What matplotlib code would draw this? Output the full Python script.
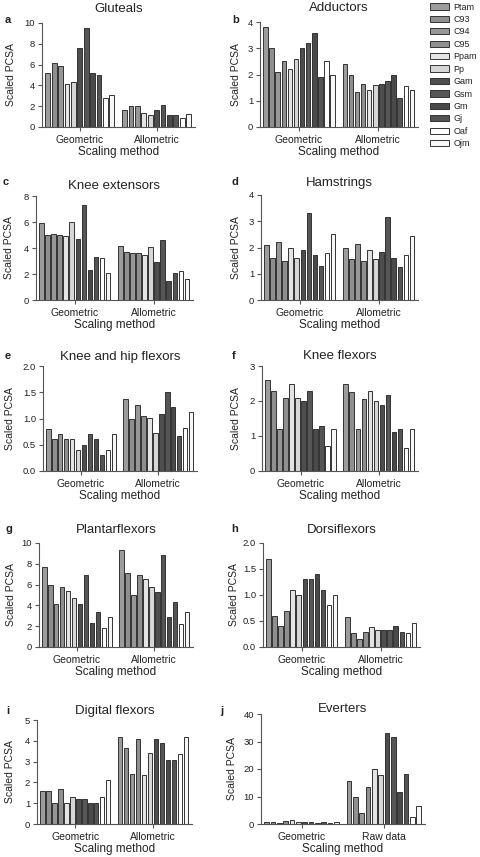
import numpy as np
import matplotlib
matplotlib.use("Agg")
import matplotlib.pyplot as plt

plt.rcParams['font.family'] = ['Liberation Sans', 'DejaVu Sans']

# Series (specimens) in legend order
specimens = ['Ptam', 'C93', 'C94', 'C95', 'Ppam', 'Pp',
             'Gam', 'Gsm', 'Gm', 'Gj', 'Oaf', 'Ojm']
bar_colors = ['#9c9c9c', '#8f8f8f', '#979797', '#8f8f8f',
              '#e4e4e4', '#d6d6d6',
              '#4e4e4e', '#565656', '#4a4a4a', '#545454',
              '#ffffff', '#f7f7f7']

# Muscle groups (panel titles) and x-axis group labels
titles = ['Gluteals', 'Adductors', 'Knee extensors', 'Hamstrings',
          'Knee and hip flexors', 'Knee flexors', 'Plantarflexors',
          'Dorsiflexors', 'Digital flexors', 'Everters']
letters = ['a', 'b', 'c', 'd', 'e', 'f', 'g', 'h', 'i', 'j']
group_labels = [['Geometric', 'Allometric']] * 9 + [['Geometric', 'Raw data']]

# Scaled PCSA values; None = bar not shown
gluteals_geo = [5.2, 6.2, 5.9, None, 4.1, 4.3, 7.6, 9.5, 5.2, 5.0, 2.8, 3.1]
gluteals_allo = [1.6, 2.0, 2.0, None, 1.3, 1.2, 1.6, 2.1, 1.2, 1.15, 0.85, 1.25]
adductors_geo = [3.8, 3.0, 2.1, 2.5, 2.2, 2.6, 3.0, 3.2, 3.6, 1.9, 2.5, 2.0]
adductors_allo = [2.4, 2.0, 1.33, 1.63, 1.4, 1.6, 1.62, 1.75, 2.0, 1.1, 1.55, 1.4]
kneeext_geo = [5.9, 5.0, 5.1, 5.0, 4.9, 6.0, 4.7, 7.3, 2.3, 3.3, 3.2, 2.1]
kneeext_allo = [4.15, 3.7, 3.65, 3.6, 3.5, 4.1, 2.9, 4.65, 1.5, 2.1, 2.25, 1.6]
hamstrings_geo = [2.1, 1.6, 2.2, 1.5, 2.0, 1.6, 1.9, 3.3, 1.7, 1.3, 1.8, 2.5]
hamstrings_allo = [2.0, 1.55, 2.15, 1.48, 1.9, 1.57, 1.83, 3.17, 1.6, 1.27, 1.7, 2.43]
kneehip_geo = [0.8, 0.6, 0.7, 0.6, 0.6, 0.4, 0.5, 0.7, 0.6, 0.3, 0.4, 0.7]
kneehip_allo = [1.37, 0.99, 1.26, 1.04, 1.01, 0.72, 1.09, 1.5, 1.21, 0.66, 0.81, 1.13]
kneeflex_geo = [2.6, 2.3, 1.2, 2.1, 2.5, 2.1, 2.0, 2.3, 1.2, 1.3, 0.7, 1.2]
kneeflex_allo = [2.48, 2.25, 1.2, 2.05, 2.28, 2.0, 1.88, 2.18, 1.12, 1.2, 0.65, 1.2]
plantar_geo = [7.7, 6.0, 4.1, 5.8, 5.4, 4.7, 4.1, 6.9, 2.3, 3.4, 1.8, 2.9]
plantar_allo = [9.3, 7.1, 5.0, 6.95, 6.5, 5.75, 5.3, 8.85, 2.9, 4.3, 2.2, 3.4]
dorsi_geo = [1.7, 0.6, 0.4, 0.7, 1.1, 1.0, 1.3, 1.3, 1.4, 1.1, 0.8, 1.0]
dorsi_allo = [0.58, 0.26, 0.15, 0.28, 0.38, 0.32, 0.32, 0.32, 0.4, 0.29, 0.26, 0.47]
digital_geo = [1.6, 1.6, 1.0, 1.7, 1.0, 1.3, 1.2, 1.2, 1.0, 1.0, 1.3, 2.1]
digital_allo = [4.18, 3.65, 2.42, 4.07, 2.37, 3.43, 4.1, 3.88, 3.07, 3.07, 3.35, 4.2]
everters_geo = [0.9, 0.9, 0.3, 1.0, 1.4, 0.9, 0.8, 0.9, 0.5, 0.6, 0.3, 0.9]
everters_raw = [15.8, 9.9, 3.9, 13.3, 20.0, 17.8, 33.0, 31.8, 11.7, 18.1, 2.6, 6.5]

panel_data = [(gluteals_geo, gluteals_allo), (adductors_geo, adductors_allo),
              (kneeext_geo, kneeext_allo), (hamstrings_geo, hamstrings_allo),
              (kneehip_geo, kneehip_allo), (kneeflex_geo, kneeflex_allo),
              (plantar_geo, plantar_allo), (dorsi_geo, dorsi_allo),
              (digital_geo, digital_allo), (everters_geo, everters_raw)]

y_ticks = [[0, 2, 4, 6, 8, 10], [0, 1, 2, 3, 4], [0, 2, 4, 6, 8], [0, 1, 2, 3, 4],
           [0.0, 0.5, 1.0, 1.5, 2.0], [0, 1, 2, 3], [0, 2, 4, 6, 8, 10],
           [0.0, 0.5, 1.0, 1.5, 2.0], [0, 1, 2, 3, 4, 5], [0, 10, 20, 30, 40]]
y_fmt = ['%d', '%d', '%d', '%d', '%.1f', '%d', '%d', '%.1f', '%d', '%d']

# layout in pixels: left, right, top, bottom of each axes; title y; letter x,y; ylabel x
W, H = 480, 857
boxes = [(42, 195, 23, 127), (260, 418, 22, 127),
         (36, 193, 196, 300), (261, 418, 195, 300),
         (43, 197, 366, 471), (262, 418, 366, 471),
         (39, 193, 543, 647), (263, 420, 543, 647),
         (37, 192, 720, 824), (261, 425, 714, 824)]
title_y = [9, 8, 186, 183, 357, 356, 530, 530, 711, 709]
letter_xy = [(5, 20), (232, 20), (3, 182), (232, 182), (5, 356),
             (232, 356), (6, 529), (231, 529), (6, 711), (220, 711)]
ylabel_x = [11, 236, 9, 236, 10, 236, 11, 234, 10, 232]

fig = plt.figure(figsize=(W / 100, H / 100), dpi=100)
spine_col = '#555555'
text_col = '#222222'

legend_handles = None
for k in range(10):
    l, r, t, b = boxes[k]
    ax = fig.add_axes([l / W, 1 - b / H, (r - l) / W, (b - t) / H])
    geo, other = panel_data[k]
    keep = [i for i in range(len(specimens)) if geo[i] is not None]
    n = len(keep)
    cols = [bar_colors[i] for i in keep]
    x0 = np.arange(n)
    x1 = x0 + n + 1.0
    h0 = ax.bar(x0, [geo[i] for i in keep], width=0.75, color=cols,
                edgecolor='#333333', linewidth=0.7)
    ax.bar(x1, [other[i] for i in keep], width=0.75, color=cols,
           edgecolor='#333333', linewidth=0.7)
    if k == 1:
        legend_handles = h0
    ax.set_xlim(-0.9, 2 * n + 1.0)
    yt = y_ticks[k]
    ax.set_ylim(yt[0], yt[-1])
    ax.set_yticks(yt)
    ax.set_yticklabels([y_fmt[k] % v for v in yt])
    ax.set_xticks([(n - 1) / 2, n + 1.0 + (n - 1) / 2])
    ax.set_xticklabels(group_labels[k])
    for s in ['top', 'right']:
        ax.spines[s].set_visible(False)
    for s in ['left', 'bottom']:
        ax.spines[s].set_color(spine_col)
        ax.spines[s].set_linewidth(0.8)
    ax.tick_params(axis='y', length=3, width=0.8, color=spine_col,
                   labelsize=6.8, labelcolor=text_col, pad=2)
    ax.tick_params(axis='x', length=3, width=0.8, color=spine_col,
                   labelsize=7.5, labelcolor=text_col, pad=3)
    ax.set_xlabel('Scaling method', fontsize=8.5, color=text_col)
    ax.xaxis.set_label_coords(0.5, -25 / (b - t))
    ax.xaxis.label.set_verticalalignment('center')

    fig.text(ylabel_x[k] / W, 1 - (t + b) / 2 / H, 'Scaled PCSA', rotation=90,
             ha='center', va='center', fontsize=7.5, color=text_col)
    fig.text((l + r) / 2 / W, 1 - title_y[k] / H, titles[k],
             ha='center', va='center', fontsize=9.5, color=text_col)
    lx, ly = letter_xy[k]
    fig.text(lx / W, 1 - ly / H, letters[k], ha='left', va='center',
             fontsize=8, fontweight='bold', color=text_col)

fig.legend(legend_handles, specimens, loc='upper left',
           bbox_to_anchor=(426 / W, 1 + 1 / H), frameon=False,
           fontsize=6.5, handlelength=2.1, handleheight=0.7,
           labelspacing=0.38, handletextpad=0.55, borderaxespad=0,
           labelcolor=text_col)

fig.savefig('out.png', dpi=100)
